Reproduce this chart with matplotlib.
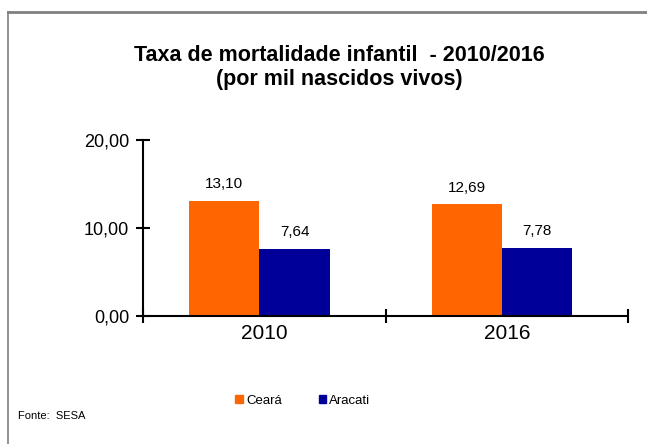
import matplotlib.pyplot as plt
from matplotlib.patches import Patch
from matplotlib.lines import Line2D

plt.rcParams['font.family'] = ['Liberation Sans', 'DejaVu Sans']

# dados
anos = ['2010', '2016']
ceara = [13.10, 12.69]
aracati = [7.64, 7.78]
rotulos_ceara = ['13,10', '12,69']
rotulos_aracati = ['7,64', '7,78']
yticks = [0, 10, 20]
ytick_labels = ['0,00', '10,00', '20,00']

cor_ceara = '#FF6600'
cor_aracati = '#000099'

fig = plt.figure(figsize=(6.47, 4.44), dpi=100)
ax = fig.add_axes([0.221, 0.288, 0.750, 0.397])

x = range(len(anos))
w = 0.29
b1 = ax.bar([i - 0.165 for i in x], ceara, width=w, color=cor_ceara)
b2 = ax.bar([i + 0.125 for i in x], aracati, width=w, color=cor_aracati)

# rótulos de dados
for rect, txt in zip(b1, rotulos_ceara):
    ax.annotate(txt, (rect.get_x() + rect.get_width() / 2, rect.get_height()),
                xytext=(0, 7), textcoords='offset points', ha='center', va='bottom', fontsize=11)
for rect, txt in zip(b2, rotulos_aracati):
    ax.annotate(txt, (rect.get_x() + rect.get_width() / 2, rect.get_height()),
                xytext=(0, 7), textcoords='offset points', ha='center', va='bottom', fontsize=11)

ax.set_xlim(-0.5, 1.5)
ax.set_ylim(0, 20)
ax.set_yticks(yticks)
ax.set_yticklabels(ytick_labels, fontsize=13)
ax.set_xticks([-0.5, 0.5, 1.5])
ax.set_xticklabels([])
ax.set_xticks(list(x), minor=True)
ax.set_xticklabels(anos, minor=True, fontsize=15)
ax.tick_params(axis='x', which='minor', length=0, pad=6)
ax.tick_params(axis='both', which='major', direction='inout', length=10, width=1.5)
ax.tick_params(axis='y', pad=5)

for s in ['top', 'right']:
    ax.spines[s].set_visible(False)
for s in ['left', 'bottom']:
    ax.spines[s].set_linewidth(1.5)

fig.text(0.525, 0.848, 'Taxa de mortalidade infantil  - 2010/2016\n(por mil nascidos vivos)',
         ha='center', va='center', fontsize=15.5, fontweight='bold', linespacing=1.2)

handles = [Patch(color=cor_ceara, label='Ceará'), Patch(color=cor_aracati, label='Aracati')]
fig.legend(handles=handles, loc='center', bbox_to_anchor=(0.468, 0.097), ncol=2, frameon=False,
           fontsize=9.5, handlelength=0.6, handleheight=0.6, handletextpad=0.2, columnspacing=2.8)

fig.text(0.028, 0.063, 'Fonte:  SESA', fontsize=8, va='center')

# moldura
fig.add_artist(Line2D([0.0124, 0.0124], [0, 0.973], color='#808080', lw=1.2, transform=fig.transFigure))
fig.add_artist(Line2D([0.0124, 1], [0.973, 0.973], color='#808080', lw=2, transform=fig.transFigure))

fig.savefig('out.png', dpi=100)
